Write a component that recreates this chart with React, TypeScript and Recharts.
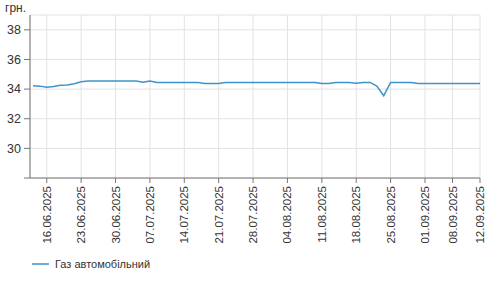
import { LineChart, Line, XAxis, YAxis, CartesianGrid, Legend } from 'recharts';

// робочі дні, по яких є ціни
const dates = [
    '12.06.2025', '13.06.2025',
    '16.06.2025', '17.06.2025', '18.06.2025', '19.06.2025', '20.06.2025',
    '23.06.2025', '24.06.2025', '25.06.2025', '26.06.2025', '27.06.2025',
    '30.06.2025', '01.07.2025', '02.07.2025', '03.07.2025', '04.07.2025',
    '07.07.2025', '08.07.2025', '09.07.2025', '10.07.2025', '11.07.2025',
    '14.07.2025', '15.07.2025', '16.07.2025', '17.07.2025', '18.07.2025',
    '21.07.2025', '22.07.2025', '23.07.2025', '24.07.2025', '25.07.2025',
    '28.07.2025', '29.07.2025', '30.07.2025', '31.07.2025', '01.08.2025',
    '04.08.2025', '05.08.2025', '06.08.2025', '07.08.2025', '08.08.2025',
    '11.08.2025', '12.08.2025', '13.08.2025', '14.08.2025', '15.08.2025',
    '18.08.2025', '19.08.2025', '20.08.2025', '21.08.2025', '22.08.2025',
    '25.08.2025', '26.08.2025', '27.08.2025', '28.08.2025', '29.08.2025',
    '01.09.2025', '02.09.2025', '03.09.2025', '04.09.2025',
    '08.09.2025', '09.09.2025', '10.09.2025', '11.09.2025', '12.09.2025',
];

const gasPrices = [
    34.23, 34.2,
    34.12, 34.18, 34.26, 34.28, 34.36,
    34.5, 34.55, 34.55, 34.55, 34.55,
    34.55, 34.55, 34.55, 34.55, 34.47,
    34.55, 34.45, 34.45, 34.45, 34.45,
    34.45, 34.45, 34.45, 34.38, 34.38,
    34.38, 34.45, 34.45, 34.45, 34.45,
    34.45, 34.45, 34.45, 34.45, 34.45,
    34.45, 34.45, 34.45, 34.45, 34.45,
    34.37, 34.37, 34.45, 34.45, 34.45,
    34.4, 34.45, 34.45, 34.2, 33.55,
    34.45, 34.45, 34.45, 34.45, 34.38,
    34.38, 34.38, 34.38, 34.38,
    34.38, 34.38, 34.38, 34.38, 34.38,
];

const xTicks = [
    '16.06.2025', '23.06.2025', '30.06.2025', '07.07.2025', '14.07.2025',
    '21.07.2025', '28.07.2025', '04.08.2025', '11.08.2025', '18.08.2025',
    '25.08.2025', '01.09.2025', '08.09.2025', '12.09.2025',
];
const yTicks = [28, 30, 32, 34, 36, 38];

const seriesName = 'Газ автомобільний';
const lineColor = '#3d94c9';

const data = dates.map((d, i) => ({ date: d, gas: gasPrices[i] }));

function DateTick({ x, y, payload }: any) {
    return (
        <text
            x={x}
            y={y}
            transform={`rotate(-90, ${x}, ${y})`}
            textAnchor="end"
            dy="0.35em"
            fontSize={11.5}
            fill="#333"
        >
            {payload.value}
        </text>
    );
}

function PriceTick({ x, y, payload }: any) {
    if (payload.value === 28) return null;
    return (
        <text x={x} y={y} textAnchor="end" dy="0.35em" fontSize={12.5} fill="#333">
            {payload.value}
        </text>
    );
}

function LegendBox() {
    return (
        <div style={{ display: 'flex', alignItems: 'center', fontSize: 11, color: '#333' }}>
            <svg width={17} height={4} style={{ marginRight: 6 }}>
                <line x1={0} y1={2} x2={17} y2={2} stroke={lineColor} strokeWidth={1.5} />
            </svg>
            <span>{seriesName}</span>
        </div>
    );
}

export default function App() {
    return (
        <div style={{ position: 'absolute', left: 0, top: 0, width: 490, height: 283, fontFamily: 'Arial, "Liberation Sans", sans-serif' }}>
            <span style={{ position: 'absolute', left: 5, top: 1, fontSize: 12, color: '#333' }}>грн.</span>
            <LineChart width={490} height={283} data={data} margin={{ top: 15, right: 10, left: 0, bottom: 5 }}>
                <CartesianGrid stroke="#e2e2e2" />
                <XAxis
                    dataKey="date"
                    ticks={xTicks}
                    interval={0}
                    height={80}
                    tick={<DateTick />}
                    tickSize={5}
                    tickMargin={3}
                    stroke="#777"
                    padding={{ left: 3, right: 0 }}
                />
                <YAxis
                    domain={[28, 39]}
                    ticks={yTicks}
                    width={30}
                    tick={<PriceTick />}
                    tickSize={6}
                    tickMargin={3}
                    stroke="#777"
                    allowDataOverflow
                />
                <Legend
                    verticalAlign="bottom"
                    align="left"
                    content={<LegendBox />}
                    wrapperStyle={{ left: 32, height: 20, width: 200 }}
                />
                <Line
                    type="linear"
                    dataKey="gas"
                    name={seriesName}
                    stroke={lineColor}
                    strokeWidth={1.5}
                    dot={false}
                    isAnimationActive={false}
                />
            </LineChart>
        </div>
    );
}
